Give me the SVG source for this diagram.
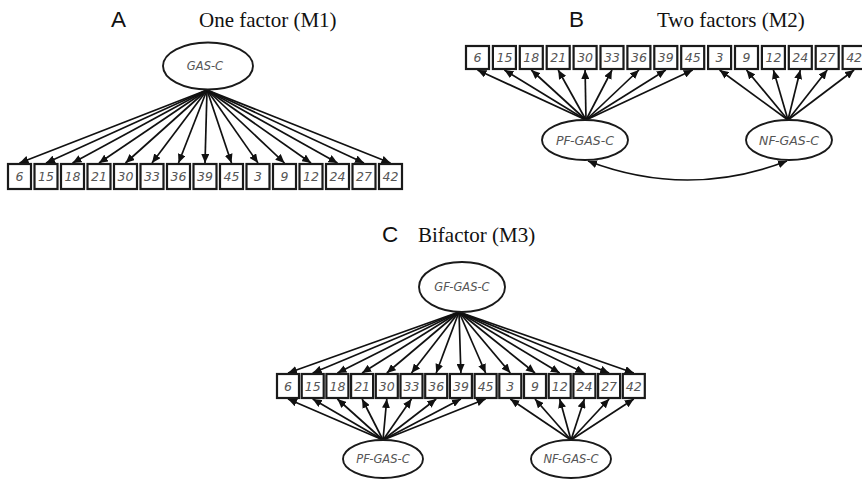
<svg xmlns="http://www.w3.org/2000/svg" width="862" height="479" viewBox="0 0 862 479">
<style>
.bg{fill:#fff}
.box{fill:#fff;stroke:#1a1a1a;stroke-width:2.2}
.ell{fill:#fff;stroke:#1a1a1a;stroke-width:1.9}
.num{font-family:"DejaVu Sans",Verdana,sans-serif;font-style:italic;font-size:12.5px;fill:#555;text-anchor:middle}
.numB{font-size:12.5px}
.lat{font-family:"DejaVu Sans",Verdana,sans-serif;font-style:italic;font-size:11.5px;fill:#555;text-anchor:middle}
.latB{font-size:12.5px}
.letter{font-family:"Liberation Sans",Arial,sans-serif;font-size:22.5px;fill:#111}
.title{font-family:"Liberation Serif","Times New Roman",serif;font-size:21px;fill:#111}
.arr{stroke:#111;stroke-width:1.7;fill:none;marker-end:url(#ah)}
.cov{stroke:#111;stroke-width:1.7;fill:none;marker-start:url(#ah);marker-end:url(#ah)}
</style>
<defs>
<marker id="ah" markerUnits="userSpaceOnUse" markerWidth="10" markerHeight="8" refX="9" refY="4" orient="auto-start-reverse">
<path d="M0,0 L9,4 L0,8 z" fill="#111"/>
</marker>
</defs>
<rect class="bg" x="0" y="0" width="862" height="479"/>

<!-- titles -->
<text class="letter" x="111" y="27">A</text>
<text class="title" x="199" y="27">One factor (M1)</text>
<text class="letter" x="569" y="27">B</text>
<text class="title" x="657" y="27">Two factors (M2)</text>
<text class="letter" x="382" y="242">C</text>
<text class="title" x="418" y="242">Bifactor (M3)</text>

<!-- connectors -->
<g id="connectors">
<g id="conn-A">
<line class="arr" x1="207" y1="90" x2="19.5" y2="163"/>
<line class="arr" x1="207" y1="90" x2="46" y2="163"/>
<line class="arr" x1="207" y1="90" x2="72.5" y2="163"/>
<line class="arr" x1="207" y1="90" x2="99" y2="163"/>
<line class="arr" x1="207" y1="90" x2="125.5" y2="163"/>
<line class="arr" x1="207" y1="90" x2="152" y2="163"/>
<line class="arr" x1="207" y1="90" x2="178.5" y2="163"/>
<line class="arr" x1="207" y1="90" x2="205" y2="163"/>
<line class="arr" x1="207" y1="90" x2="231.5" y2="163"/>
<line class="arr" x1="207" y1="90" x2="258" y2="163"/>
<line class="arr" x1="207" y1="90" x2="284.5" y2="163"/>
<line class="arr" x1="207" y1="90" x2="311" y2="163"/>
<line class="arr" x1="207" y1="90" x2="337.5" y2="163"/>
<line class="arr" x1="207" y1="90" x2="364" y2="163"/>
<line class="arr" x1="207" y1="90" x2="390.5" y2="163"/>
</g>
<g id="conn-B">
<line class="arr" x1="586" y1="120" x2="477.5" y2="70"/>
<line class="arr" x1="586" y1="120" x2="504.4" y2="70"/>
<line class="arr" x1="586" y1="120" x2="531.3" y2="70"/>
<line class="arr" x1="586" y1="120" x2="558.2" y2="70"/>
<line class="arr" x1="586" y1="120" x2="585.1" y2="70"/>
<line class="arr" x1="586" y1="120" x2="612" y2="70"/>
<line class="arr" x1="586" y1="120" x2="638.9" y2="70"/>
<line class="arr" x1="586" y1="120" x2="665.8" y2="70"/>
<line class="arr" x1="586" y1="120" x2="692.7" y2="70"/>
<line class="arr" x1="788" y1="120" x2="719.6" y2="70"/>
<line class="arr" x1="788" y1="120" x2="746.5" y2="70"/>
<line class="arr" x1="788" y1="120" x2="773.4" y2="70"/>
<line class="arr" x1="788" y1="120" x2="800.3" y2="70"/>
<line class="arr" x1="788" y1="120" x2="827.2" y2="70"/>
<line class="arr" x1="788" y1="120" x2="854.1" y2="70"/>
<path class="cov" d="M588,161 Q687.5,199 787,161"/>
</g>
<g id="conn-C">
<line class="arr" x1="459" y1="312" x2="288" y2="373"/>
<line class="arr" x1="459" y1="312" x2="312.7" y2="373"/>
<line class="arr" x1="459" y1="312" x2="337.4" y2="373"/>
<line class="arr" x1="459" y1="312" x2="362.1" y2="373"/>
<line class="arr" x1="459" y1="312" x2="386.8" y2="373"/>
<line class="arr" x1="459" y1="312" x2="411.5" y2="373"/>
<line class="arr" x1="459" y1="312" x2="436.2" y2="373"/>
<line class="arr" x1="459" y1="312" x2="460.9" y2="373"/>
<line class="arr" x1="459" y1="312" x2="485.6" y2="373"/>
<line class="arr" x1="459" y1="312" x2="510.3" y2="373"/>
<line class="arr" x1="459" y1="312" x2="535" y2="373"/>
<line class="arr" x1="459" y1="312" x2="559.7" y2="373"/>
<line class="arr" x1="459" y1="312" x2="584.4" y2="373"/>
<line class="arr" x1="459" y1="312" x2="609.1" y2="373"/>
<line class="arr" x1="459" y1="312" x2="633.8" y2="373"/>
<line class="arr" x1="383" y1="440" x2="288" y2="399"/>
<line class="arr" x1="383" y1="440" x2="312.7" y2="399"/>
<line class="arr" x1="383" y1="440" x2="337.4" y2="399"/>
<line class="arr" x1="383" y1="440" x2="362.1" y2="399"/>
<line class="arr" x1="383" y1="440" x2="386.8" y2="399"/>
<line class="arr" x1="383" y1="440" x2="411.5" y2="399"/>
<line class="arr" x1="383" y1="440" x2="436.2" y2="399"/>
<line class="arr" x1="383" y1="440" x2="460.9" y2="399"/>
<line class="arr" x1="383" y1="440" x2="485.6" y2="399"/>
<line class="arr" x1="571" y1="440" x2="510.3" y2="399"/>
<line class="arr" x1="571" y1="440" x2="535" y2="399"/>
<line class="arr" x1="571" y1="440" x2="559.7" y2="399"/>
<line class="arr" x1="571" y1="440" x2="584.4" y2="399"/>
<line class="arr" x1="571" y1="440" x2="609.1" y2="399"/>
<line class="arr" x1="571" y1="440" x2="633.8" y2="399"/>
</g>
</g>

<!-- Panel A nodes -->
<g id="A-GAS-C"><ellipse class="ell" cx="208" cy="66" rx="45" ry="23.5"/><text class="lat" x="205" y="70">GAS-C</text></g>
<g id="A-6"><rect class="box" x="8" y="164" width="23" height="25"/><text class="num" x="19.5" y="181">6</text></g>
<g id="A-15"><rect class="box" x="34.5" y="164" width="23" height="25"/><text class="num" x="46" y="181">15</text></g>
<g id="A-18"><rect class="box" x="61" y="164" width="23" height="25"/><text class="num" x="72.5" y="181">18</text></g>
<g id="A-21"><rect class="box" x="87.5" y="164" width="23" height="25"/><text class="num" x="99" y="181">21</text></g>
<g id="A-30"><rect class="box" x="114" y="164" width="23" height="25"/><text class="num" x="125.5" y="181">30</text></g>
<g id="A-33"><rect class="box" x="140.5" y="164" width="23" height="25"/><text class="num" x="152" y="181">33</text></g>
<g id="A-36"><rect class="box" x="167" y="164" width="23" height="25"/><text class="num" x="178.5" y="181">36</text></g>
<g id="A-39"><rect class="box" x="193.5" y="164" width="23" height="25"/><text class="num" x="205" y="181">39</text></g>
<g id="A-45"><rect class="box" x="220" y="164" width="23" height="25"/><text class="num" x="231.5" y="181">45</text></g>
<g id="A-3"><rect class="box" x="246.5" y="164" width="23" height="25"/><text class="num" x="258" y="181">3</text></g>
<g id="A-9"><rect class="box" x="273" y="164" width="23" height="25"/><text class="num" x="284.5" y="181">9</text></g>
<g id="A-12"><rect class="box" x="299.5" y="164" width="23" height="25"/><text class="num" x="311" y="181">12</text></g>
<g id="A-24"><rect class="box" x="326" y="164" width="23" height="25"/><text class="num" x="337.5" y="181">24</text></g>
<g id="A-27"><rect class="box" x="352.5" y="164" width="23" height="25"/><text class="num" x="364" y="181">27</text></g>
<g id="A-42"><rect class="box" x="379" y="164" width="23" height="25"/><text class="num" x="390.5" y="181">42</text></g>

<!-- Panel B nodes -->
<g id="B-PF-GAS-C"><ellipse class="ell" cx="585" cy="140" rx="43" ry="20"/><text class="lat latB" x="585" y="144.5">PF-GAS-C</text></g>
<g id="B-NF-GAS-C"><ellipse class="ell" cx="789" cy="140" rx="43" ry="20"/><text class="lat latB" x="789" y="144.5">NF-GAS-C</text></g>
<g id="B-6"><rect class="box" x="466" y="46" width="23" height="23"/><text class="num numB" x="477.5" y="62">6</text></g>
<g id="B-15"><rect class="box" x="492.9" y="46" width="23" height="23"/><text class="num numB" x="504.4" y="62">15</text></g>
<g id="B-18"><rect class="box" x="519.8" y="46" width="23" height="23"/><text class="num numB" x="531.3" y="62">18</text></g>
<g id="B-21"><rect class="box" x="546.7" y="46" width="23" height="23"/><text class="num numB" x="558.2" y="62">21</text></g>
<g id="B-30"><rect class="box" x="573.6" y="46" width="23" height="23"/><text class="num numB" x="585.1" y="62">30</text></g>
<g id="B-33"><rect class="box" x="600.5" y="46" width="23" height="23"/><text class="num numB" x="612" y="62">33</text></g>
<g id="B-36"><rect class="box" x="627.4" y="46" width="23" height="23"/><text class="num numB" x="638.9" y="62">36</text></g>
<g id="B-39"><rect class="box" x="654.3" y="46" width="23" height="23"/><text class="num numB" x="665.8" y="62">39</text></g>
<g id="B-45"><rect class="box" x="681.2" y="46" width="23" height="23"/><text class="num numB" x="692.7" y="62">45</text></g>
<g id="B-3"><rect class="box" x="708.1" y="46" width="23" height="23"/><text class="num numB" x="719.6" y="62">3</text></g>
<g id="B-9"><rect class="box" x="735" y="46" width="23" height="23"/><text class="num numB" x="746.5" y="62">9</text></g>
<g id="B-12"><rect class="box" x="761.9" y="46" width="23" height="23"/><text class="num numB" x="773.4" y="62">12</text></g>
<g id="B-24"><rect class="box" x="788.8" y="46" width="23" height="23"/><text class="num numB" x="800.3" y="62">24</text></g>
<g id="B-27"><rect class="box" x="815.7" y="46" width="23" height="23"/><text class="num numB" x="827.2" y="62">27</text></g>
<g id="B-42"><rect class="box" x="842.6" y="46" width="23" height="23"/><text class="num numB" x="854.1" y="62">42</text></g>

<!-- Panel C nodes -->
<g id="C-GF-GAS-C"><ellipse class="ell" cx="462" cy="287" rx="43" ry="25"/><text class="lat" x="462" y="291">GF-GAS-C</text></g>
<g id="C-PF-GAS-C"><ellipse class="ell" cx="383" cy="459" rx="40" ry="19"/><text class="lat" x="383" y="463">PF-GAS-C</text></g>
<g id="C-NF-GAS-C"><ellipse class="ell" cx="571" cy="459" rx="40" ry="19"/><text class="lat" x="571" y="463">NF-GAS-C</text></g>
<g id="C-6"><rect class="box" x="277" y="374" width="22" height="24"/><text class="num" x="288" y="390.5">6</text></g>
<g id="C-15"><rect class="box" x="301.7" y="374" width="22" height="24"/><text class="num" x="312.7" y="390.5">15</text></g>
<g id="C-18"><rect class="box" x="326.4" y="374" width="22" height="24"/><text class="num" x="337.4" y="390.5">18</text></g>
<g id="C-21"><rect class="box" x="351.1" y="374" width="22" height="24"/><text class="num" x="362.1" y="390.5">21</text></g>
<g id="C-30"><rect class="box" x="375.8" y="374" width="22" height="24"/><text class="num" x="386.8" y="390.5">30</text></g>
<g id="C-33"><rect class="box" x="400.5" y="374" width="22" height="24"/><text class="num" x="411.5" y="390.5">33</text></g>
<g id="C-36"><rect class="box" x="425.2" y="374" width="22" height="24"/><text class="num" x="436.2" y="390.5">36</text></g>
<g id="C-39"><rect class="box" x="449.9" y="374" width="22" height="24"/><text class="num" x="460.9" y="390.5">39</text></g>
<g id="C-45"><rect class="box" x="474.6" y="374" width="22" height="24"/><text class="num" x="485.6" y="390.5">45</text></g>
<g id="C-3"><rect class="box" x="499.3" y="374" width="22" height="24"/><text class="num" x="510.3" y="390.5">3</text></g>
<g id="C-9"><rect class="box" x="524" y="374" width="22" height="24"/><text class="num" x="535" y="390.5">9</text></g>
<g id="C-12"><rect class="box" x="548.7" y="374" width="22" height="24"/><text class="num" x="559.7" y="390.5">12</text></g>
<g id="C-24"><rect class="box" x="573.4" y="374" width="22" height="24"/><text class="num" x="584.4" y="390.5">24</text></g>
<g id="C-27"><rect class="box" x="598.1" y="374" width="22" height="24"/><text class="num" x="609.1" y="390.5">27</text></g>
<g id="C-42"><rect class="box" x="622.8" y="374" width="22" height="24"/><text class="num" x="633.8" y="390.5">42</text></g>
</svg>
